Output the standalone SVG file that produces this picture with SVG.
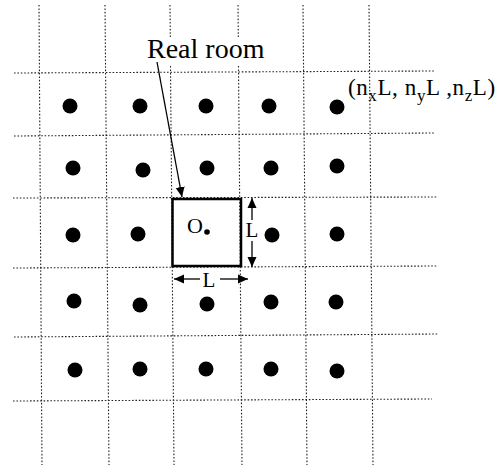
<svg xmlns="http://www.w3.org/2000/svg" width="500" height="472" viewBox="0 0 500 472">
<style>
.grid{stroke:#222;stroke-width:1.1;stroke-dasharray:1.6 1.8;fill:none}
.pt{fill:#000}
.t{font-family:"Liberation Serif","Times New Roman",serif;fill:#000}
.conn{stroke:#000;stroke-width:1.3;fill:none}
</style>
<defs>
<marker id="ah" viewBox="0 0 10 10" refX="10" refY="5" markerWidth="10" markerHeight="10" markerUnits="userSpaceOnUse" orient="auto-start-reverse">
<path d="M0,0.5 L10,5 L0,9.5 Z" fill="#000"/>
</marker>
</defs>
<rect width="500" height="472" fill="#fff"/>
<g id="grid">
<line class="grid" x1="39" y1="5" x2="42" y2="465"/>
<line class="grid" x1="105" y1="5" x2="109" y2="465"/>
<line class="grid" x1="170" y1="5" x2="170.3" y2="37"/>
<line class="grid" x1="170.5" y1="66" x2="174" y2="465"/>
<line class="grid" x1="238" y1="5" x2="238.3" y2="37"/>
<line class="grid" x1="238.5" y1="66" x2="242" y2="465"/>
<line class="grid" x1="303" y1="5" x2="307" y2="465"/>
<line class="grid" x1="369" y1="5" x2="373" y2="465"/>
<line class="grid" x1="14" y1="73" x2="435" y2="71"/>
<line class="grid" x1="14" y1="136" x2="434" y2="133"/>
<line class="grid" x1="13" y1="198" x2="438" y2="197"/>
<line class="grid" x1="13" y1="268" x2="437" y2="266"/>
<line class="grid" x1="14" y1="337" x2="438" y2="334"/>
<line class="grid" x1="13" y1="401" x2="432" y2="399"/>
</g>
<g id="images">
<circle class="pt" cx="70" cy="106" r="7.5"/>
<circle class="pt" cx="140" cy="106" r="7.5"/>
<circle class="pt" cx="206" cy="106" r="7.5"/>
<circle class="pt" cx="269" cy="106" r="7.5"/>
<circle class="pt" cx="337" cy="107" r="7.5"/>
<circle class="pt" cx="73" cy="168" r="7.5"/>
<circle class="pt" cx="143" cy="170" r="7.5"/>
<circle class="pt" cx="207" cy="168" r="7.5"/>
<circle class="pt" cx="271" cy="168" r="7.5"/>
<circle class="pt" cx="337" cy="166" r="7.5"/>
<circle class="pt" cx="73" cy="235" r="7.5"/>
<circle class="pt" cx="138" cy="234" r="7.5"/>
<circle class="pt" cx="272" cy="235" r="7.5"/>
<circle class="pt" cx="337" cy="234" r="7.5"/>
<circle class="pt" cx="74" cy="301" r="7.5"/>
<circle class="pt" cx="140" cy="305" r="7.5"/>
<circle class="pt" cx="207" cy="304" r="7.5"/>
<circle class="pt" cx="271" cy="302" r="7.5"/>
<circle class="pt" cx="336" cy="302" r="7.5"/>
<circle class="pt" cx="75" cy="370" r="7.5"/>
<circle class="pt" cx="140" cy="369" r="7.5"/>
<circle class="pt" cx="206" cy="369" r="7.5"/>
<circle class="pt" cx="271" cy="369" r="7.5"/>
<circle class="pt" cx="337" cy="371" r="7.5"/>
</g>
<g id="real-room">
<rect x="172.5" y="199" width="68.5" height="67" fill="none" stroke="#000" stroke-width="2.5"/>
<text class="t" x="187" y="233" font-size="22">O</text>
<circle class="pt" cx="207" cy="232" r="2.8"/>
</g>
<g id="label-real-room">
<text class="t" x="147" y="58" font-size="28">Real room</text>
</g>
<g id="label-coords">
<text class="t" x="348" y="95" font-size="23" letter-spacing="0.6">(n<tspan font-size="17" dy="6">x</tspan><tspan dy="-6">L, n</tspan><tspan font-size="17" dy="6">y</tspan><tspan dy="-6">L ,n</tspan><tspan font-size="17" dy="6">z</tspan><tspan dy="-6">L)</tspan></text>
</g>
<g id="label-L-horizontal">
<text class="t" x="209" y="287" font-size="21" text-anchor="middle">L</text>
</g>
<g id="label-L-vertical">
<text class="t" x="252" y="237" font-size="21" text-anchor="middle">L</text>
</g>
<g id="connectors">
<line class="conn" x1="157" y1="62" x2="182" y2="197" marker-end="url(#ah)"/>
<line class="conn" x1="200" y1="279" x2="174" y2="279" marker-end="url(#ah)"/>
<line class="conn" x1="220" y1="279" x2="248" y2="279" marker-end="url(#ah)"/>
<line class="conn" x1="252" y1="220" x2="252" y2="198" marker-end="url(#ah)"/>
<line class="conn" x1="252" y1="241" x2="252" y2="267" marker-end="url(#ah)"/>
</g>
</svg>
